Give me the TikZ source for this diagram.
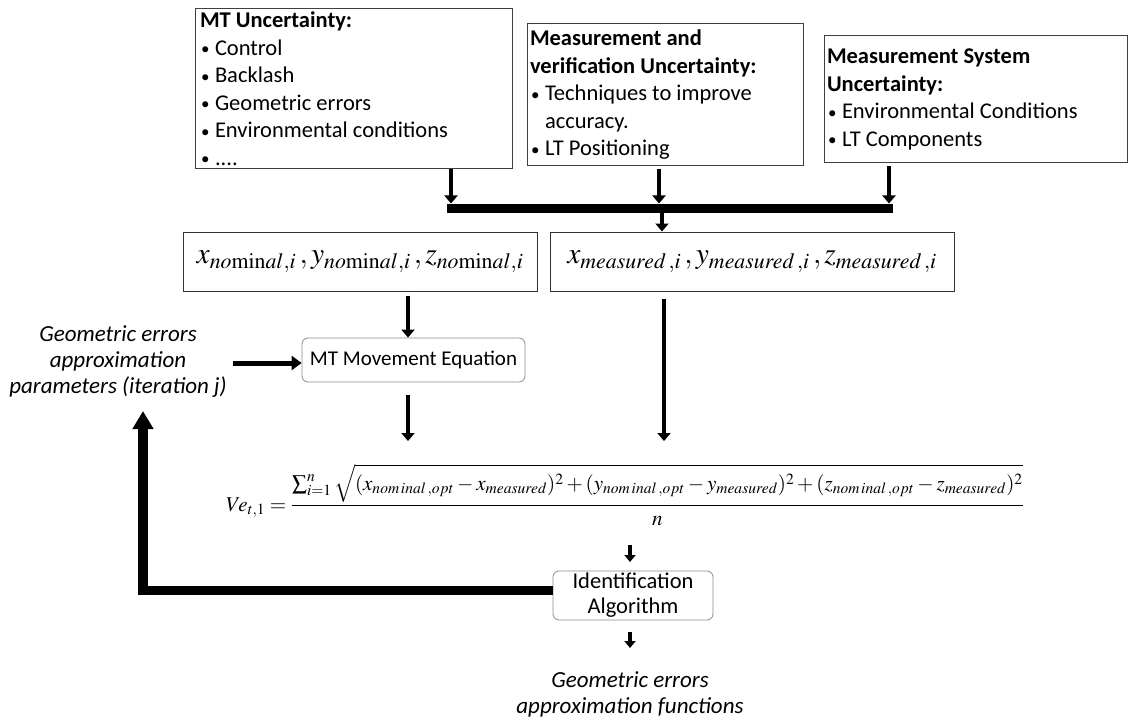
\documentclass[tikz,border=0pt]{standalone}
\usepackage{mathptmx}
\usepackage[no-math]{fontspec}
\setmainfont{Carlito}
\usetikzlibrary{arrows.meta}
\newcommand{\boxfont}{\fontsize{22.5}{27.5}\selectfont}
\newcommand{\bul}{\makebox[15pt][l]{\hspace{1pt}\raisebox{0.5pt}{\fontsize{17}{17}\selectfont\textbullet}}}
\newcommand{\hang}{\hspace*{15pt}}
\begin{document}
\begin{tikzpicture}[x=1pt,y=-1pt,
  ubox/.style={draw=black!75, line width=1pt, align=flush left, font=\boxfont, inner ysep=0pt},
  vbox/.style={draw=black!80, line width=1pt, inner sep=0pt, align=center},
  rbox/.style={draw=black!45, rounded corners=6pt, line width=0.8pt, align=center,
     font=\fontsize{21}{25}\selectfont, inner sep=0pt},
  dn/.style={line width=4pt, -{Triangle[width=13pt,length=8pt]}},
  sdn/.style={line width=4pt, -{Triangle[width=11pt,length=7pt]}},
  rt/.style={line width=5pt, -{Triangle[width=14pt,length=10pt]}},
  fbarrow/.style={line width=9.5pt, -{Triangle[width=20pt,length=18pt]}},
  lbl/.style={align=center, font=\fontsize{23}{26}\selectfont\itshape, inner sep=2pt}
]
\useasboundingbox (0,0) rectangle (1132,722);
\fill[white] (0,0) rectangle (1132,722);

% uncertainty boxes
\node[ubox, minimum width=317pt, minimum height=160pt, text width=307pt, inner xsep=5pt]
  (mt) at (353.5,88.5) {\textbf{MT Uncertainty:}\\
  \bul Control\\ \bul Backlash\\ \bul Geometric errors\\ \bul Environmental conditions\\ \bul ....};
\node[ubox, minimum width=276pt, minimum height=142pt, text width=270pt, inner xsep=3pt]
  (mv) at (665,95) {\textbf{Measurement and}\\ \textbf{verification Uncertainty:}\\
  \bul Techniques to improve\\ \hang accuracy.\\ \bul LT Positioning};
\node[ubox, minimum width=303pt, minimum height=127pt, text width=297pt, inner xsep=3pt]
  (ms) at (975.5,99.5) {\textbf{Measurement System}\\ \textbf{Uncertainty:}\\
  \bul Environmental Conditions\\ \bul LT Components};

% collecting bar
\coordinate (barL) at (447,208.5);
\coordinate (barR) at (893,208.5);
\coordinate (a1) at (451,203.5);
\coordinate (a2) at (659,203.5);
\coordinate (a3) at (889,203.5);
\coordinate (bc) at (662,212);
\draw[line width=9pt] (barL) -- (barR);
\draw[dn] (mt.south -| a1) -- (a1);
\draw[dn, shorten <=3pt] (mv.south -| a2) -- (a2);
\draw[dn, shorten <=3pt] (ms.south -| a3) -- (a3);

% nominal / measured
\node[vbox, minimum width=354pt, minimum height=59pt, font=\fontsize{29.5}{34}\selectfont]
  (nom) at (360,261.5) {$x_{no\mathrm{min}al,i}\,,y_{no\mathrm{min}al,i}\,,z_{no\mathrm{min}al,i}$};
\node[vbox, minimum width=404pt, minimum height=59pt, font=\fontsize{29.5}{34}\selectfont]
  (meas) at (752,261.5) {$x_{measured\,,i}\,,y_{measured\,,i}\,,z_{measured\,,i}$};
\draw[dn] (bc) -- (bc |- meas.north);

% movement equation
\node[rbox, minimum width=223pt, minimum height=44pt] (mteq) at (413.5,360) {MT Movement Equation};
\coordinate (col1) at (408,0);
\draw[dn, shorten <=4pt] (nom.south -| col1) -- (mteq.north -| col1);

\node[lbl] (gep) at (118,362) {Geometric errors\\ approximation\\ parameters (iteration j)};
\coordinate (g1) at (233,363);
\draw[rt] (g1) -- (g1 -| mteq.west);

% formula
\node[anchor=west, inner sep=0pt, font=\fontsize{21}{25}\selectfont] (ve) at (226,495)
 {$Ve_{t,1}={\displaystyle\frac{\sum\nolimits_{i=1}^{n}\sqrt{\vphantom{\big(}(x_{nom\,inal\,,opt}-x_{measured})^2+(y_{nom\,inal\,,opt}-y_{measured})^2+(z_{nom\,inal\,,opt}-z_{measured})^2}}{n}}$};
\coordinate (e1) at (408,441);
\coordinate (e2) at (664,441);
\draw[dn, shorten <=13pt] (mteq.south -| col1) -- (e1);
\draw[dn, shorten <=7pt] (meas.south -| e2) -- (e2);

% identification
\node[rbox, minimum width=160pt, minimum height=49pt, font=\fontsize{22.5}{25}\selectfont] (ida) at (633,595.5) {Identification\\ Algorithm};
\coordinate (n1) at (630,545);
\coordinate (n2) at (630,562);
\draw[sdn] (n1) -- (n2);
\node[lbl] (gef) at (630,694) {Geometric errors\\ approximation functions};
\coordinate (i1) at (630,648);
\draw[sdn, shorten <=12pt] (ida.south -| i1) -- (i1);

% feedback
\coordinate (fbtop) at (143,411);
\draw[fbarrow] ([yshift=5pt]ida.west) -| (fbtop);
\end{tikzpicture}
\end{document}
